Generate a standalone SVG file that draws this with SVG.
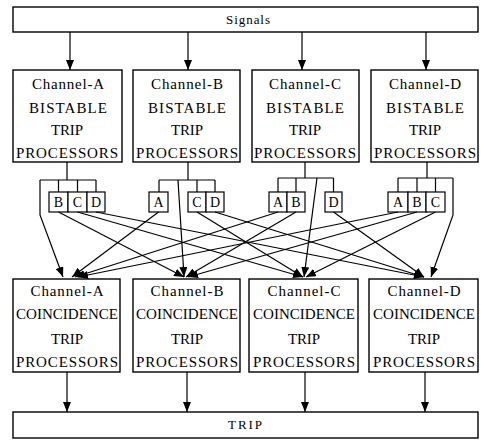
<svg xmlns="http://www.w3.org/2000/svg" width="481" height="440" viewBox="0 0 481 440">
<style>
.box{fill:#fff;stroke:#000;stroke-width:1.4}
.sb{fill:#fff;stroke:#000;stroke-width:1.2}
.t{font-family:"Liberation Serif","DejaVu Serif",serif;font-size:15px;text-anchor:middle;fill:#000}
.s{font-family:"Liberation Serif","DejaVu Serif",serif;font-size:14px;text-anchor:middle;fill:#000}
.g{font-family:"Liberation Serif","DejaVu Serif",serif;font-size:13px;text-anchor:middle;fill:#000}
.ln{fill:none;stroke:#000;stroke-width:1.2}
.ar{fill:none;stroke:#000;stroke-width:1.2;marker-end:url(#ah)}
</style>
<defs>
<marker id="ah" markerUnits="userSpaceOnUse" markerWidth="10" markerHeight="8" refX="10" refY="4" orient="auto">
<path d="M0,0 L10,4 L0,8 z" fill="#000"/>
</marker>
</defs>

<g id="signals">
<rect class="box" x="13" y="7" width="465" height="25"/>
<text class="g" x="248" y="24" textLength="44">Signals</text>
</g>

<g id="bistable-a">
<rect class="box" x="13" y="70" width="109" height="92"/>
<text class="t" x="68" y="89" textLength="72">Channel-A</text>
<text class="t" x="68" y="113" textLength="78">BISTABLE</text>
<text class="t" x="67" y="135" textLength="32">TRIP</text>
<text class="t" x="67" y="158" textLength="102">PROCESSORS</text>
</g>
<g id="bistable-b">
<rect class="box" x="133" y="70" width="107" height="92"/>
<text class="t" x="187" y="89" textLength="72">Channel-B</text>
<text class="t" x="187" y="113" textLength="78">BISTABLE</text>
<text class="t" x="187" y="135" textLength="32">TRIP</text>
<text class="t" x="187" y="158" textLength="102">PROCESSORS</text>
</g>
<g id="bistable-c">
<rect class="box" x="252" y="70" width="107" height="92"/>
<text class="t" x="305" y="89" textLength="72">Channel-C</text>
<text class="t" x="305" y="113" textLength="78">BISTABLE</text>
<text class="t" x="305" y="135" textLength="32">TRIP</text>
<text class="t" x="305" y="158" textLength="102">PROCESSORS</text>
</g>
<g id="bistable-d">
<rect class="box" x="371" y="70" width="107" height="92"/>
<text class="t" x="425" y="89" textLength="72">Channel-D</text>
<text class="t" x="425" y="113" textLength="78">BISTABLE</text>
<text class="t" x="425" y="135" textLength="32">TRIP</text>
<text class="t" x="425" y="158" textLength="102">PROCESSORS</text>
</g>

<g id="outputs-a">
<rect class="sb" x="49" y="192" width="19" height="20"/><text class="s" x="58.5" y="207">B</text>
<rect class="sb" x="68" y="192" width="19" height="20"/><text class="s" x="77.5" y="207">C</text>
<rect class="sb" x="87" y="192" width="18" height="20"/><text class="s" x="96" y="207">D</text>
</g>
<g id="outputs-b">
<rect class="sb" x="149" y="192" width="19" height="20"/><text class="s" x="158.5" y="207">A</text>
<rect class="sb" x="188" y="192" width="18" height="20"/><text class="s" x="197" y="207">C</text>
<rect class="sb" x="206" y="192" width="18" height="20"/><text class="s" x="215" y="207">D</text>
</g>
<g id="outputs-c">
<rect class="sb" x="269" y="192" width="18" height="20"/><text class="s" x="278" y="207">A</text>
<rect class="sb" x="287" y="192" width="18" height="20"/><text class="s" x="296" y="207">B</text>
<rect class="sb" x="325" y="192" width="17" height="20"/><text class="s" x="333.5" y="207">D</text>
</g>
<g id="outputs-d">
<rect class="sb" x="388" y="192" width="20" height="20"/><text class="s" x="398" y="207">A</text>
<rect class="sb" x="408" y="192" width="18" height="20"/><text class="s" x="417" y="207">B</text>
<rect class="sb" x="426" y="192" width="19" height="20"/><text class="s" x="435.5" y="207">C</text>
</g>

<g id="coincidence-a">
<rect class="box" x="13" y="279" width="107" height="93"/>
<text class="t" x="67" y="296" textLength="73">Channel-A</text>
<text class="t" x="67" y="319" textLength="102">COINCIDENCE</text>
<text class="t" x="67" y="344" textLength="32">TRIP</text>
<text class="t" x="67" y="367" textLength="102">PROCESSORS</text>
</g>
<g id="coincidence-b">
<rect class="box" x="133" y="279" width="107" height="93"/>
<text class="t" x="187" y="296" textLength="73">Channel-B</text>
<text class="t" x="187" y="319" textLength="102">COINCIDENCE</text>
<text class="t" x="187" y="344" textLength="32">TRIP</text>
<text class="t" x="187" y="367" textLength="102">PROCESSORS</text>
</g>
<g id="coincidence-c">
<rect class="box" x="249" y="279" width="109" height="93"/>
<text class="t" x="304" y="296" textLength="73">Channel-C</text>
<text class="t" x="304" y="319" textLength="102">COINCIDENCE</text>
<text class="t" x="304" y="344" textLength="32">TRIP</text>
<text class="t" x="304" y="367" textLength="102">PROCESSORS</text>
</g>
<g id="coincidence-d">
<rect class="box" x="369" y="279" width="109" height="93"/>
<text class="t" x="424" y="296" textLength="73">Channel-D</text>
<text class="t" x="424" y="319" textLength="102">COINCIDENCE</text>
<text class="t" x="424" y="344" textLength="32">TRIP</text>
<text class="t" x="424" y="367" textLength="102">PROCESSORS</text>
</g>

<g id="trip">
<rect class="box" x="13" y="412" width="465" height="26"/>
<text class="g" x="245" y="429" textLength="34">TRIP</text>
</g>

<g id="connectors">
<path class="ar" d="M70,32 V70"/>
<path class="ar" d="M188,32 V70"/>
<path class="ar" d="M302,32 V70"/>
<path class="ar" d="M426,32 V70"/>
<path class="ln" d="M67,162 V180 M40,180 H96 M58.5,180 V192 M77.5,180 V192 M96,180 V192"/>
<path class="ln" d="M188,162 V180 M159,180 H215 M159,180 V192 M197,180 V192 M215,180 V192"/>
<path class="ln" d="M305,162 V178 M278,178 H333.5 M278,178 V192 M296,178 V192 M333.5,178 V192"/>
<path class="ln" d="M427,162 V178 M398,178 H453 M398,178 V192 M417,178 V192 M435.5,178 V192"/>
<path class="ar" d="M40,180 V215 L63,277"/>
<path class="ar" d="M178,180 L184,277"/>
<path class="ar" d="M317,178 L304,277"/>
<path class="ar" d="M453,178 V215 L431,277"/>
<path class="ar" d="M58.5,212 L184,277"/>
<path class="ar" d="M77.5,212 L303,277"/>
<path class="ar" d="M96,212 L424,277"/>
<path class="ar" d="M158.5,212 L72,277"/>
<path class="ar" d="M197,212 L303,277"/>
<path class="ar" d="M215,212 L424,277"/>
<path class="ar" d="M278,212 L75,277"/>
<path class="ar" d="M296,212 L186,277"/>
<path class="ar" d="M333.5,212 L424,277"/>
<path class="ar" d="M398,212 L78,277"/>
<path class="ar" d="M417,212 L188,277"/>
<path class="ar" d="M435.5,212 L306,277"/>
<path class="ar" d="M67,372 V412"/>
<path class="ar" d="M187,372 V412"/>
<path class="ar" d="M305,372 V412"/>
<path class="ar" d="M425,372 V412"/>
</g>
</svg>
